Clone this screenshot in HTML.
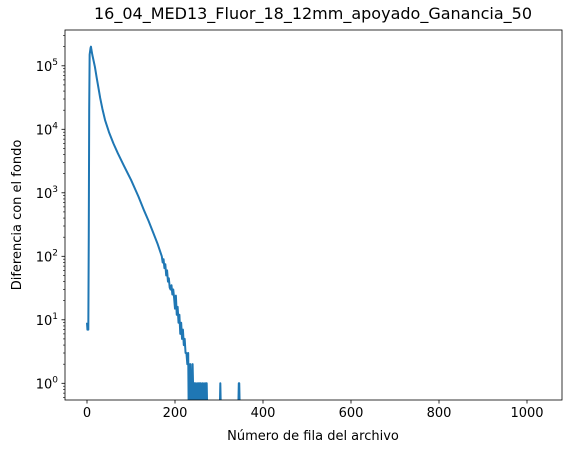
<!DOCTYPE html>
<html style="margin:0;overflow:hidden;width:570px;height:453px"><head><meta charset="utf-8"><style>
body{margin:0;background:#fff;overflow:hidden;width:570px;height:453px}
svg{display:block}
svg text{font-family:"DejaVu Sans","Liberation Sans",sans-serif;fill:#000}
</style></head><body>
<svg id="chart" width="570" height="453" viewBox="0 0 570 453" xmlns="http://www.w3.org/2000/svg">
<defs><clipPath id="clip"><rect x="65" y="30" width="497" height="370"/></clipPath></defs>
<rect x="0" y="0" width="570" height="453" fill="#fff"/>
<g id="plot" clip-path="url(#clip)"></g>
<g id="axes"></g>
<text x="313" y="19" font-size="16" text-anchor="middle">16_04_MED13_Fluor_18_12mm_apoyado_Ganancia_50</text>
<text x="313" y="440" font-size="13" text-anchor="middle">Número de fila del archivo</text>
<text transform="translate(21,215) rotate(-90)" font-size="13" text-anchor="middle">Diferencia con el fondo</text>
</svg>
<script>
const rows=[0,1,2,3,4,5,6,8,9,10,12,15,18,22,26,30,35,41,50,60,70,83,100,117,130,140,150,160,170,172,174,176,178,180,182,184,186,188,190,192,194,196,198,200,202,204,206,208,210,212,214,216,218,220,222,224,226,228,230,231,232,233,234,235,236,237,238,239,240,241,242,244,245,246,247,250,251,253,254,256,257,258,259,262,263,266,267,270,271,272,273,302,303,304,344,345,346,347,1023];
const vals=[9,7,7,7,200,20000,150000,190000,200000,180000,150000,120000,96000,65000,45000,31000,21000,14000,9000,6000,4200,2750,1600,870,520,360,240,160,100,80,90,65,75,50,60,40,45,32,30,35,25,30,22,15,24,12,16,9,12,6,9,5,7,4,5,3,3,2,3,0,2,1,0,2,1,0,1,0,2,1,0,1,0,1,0,1,0,1,0,1,0,1,0,1,0,1,0,1,0,1,0,0,1,0,0,1,1,0,0];
const xTicks=[0,200,400,600,800,1000];
const yTicks=[0,1,2,3,4,5];
const L=65,R=562,T=30,B=400;
const X=v=>87+(v)*0.44;
const Y=v=>{const lg=v>0?Math.log10(v):-0.35;return 383.3-lg*63.5;};
const NS="http://www.w3.org/2000/svg";
function mk(t,a,p){const e=document.createElementNS(NS,t);for(const k in a)e.setAttribute(k,a[k]);p.appendChild(e);return e;}
const plot=document.getElementById('plot'),axes=document.getElementById('axes');
let d=rows.map((r,i)=>(i?'L':'M')+X(r).toFixed(2)+' '+Y(vals[i]).toFixed(2)).join(' ');
const line=mk('path',{d:d,fill:'none',stroke:'#1f77b4','stroke-width':2,'stroke-linejoin':'round'},plot);


const frame=mk('rect',{x:L,y:T,width:R-L,height:B-T,fill:'none',stroke:'#000','stroke-width':0.8},axes);


xTicks.forEach(t=>{const x=X(t);
mk('line',{x1:x,x2:x,y1:B,y2:B+3.5,stroke:'#000','stroke-width':0.8},axes);
const tx=mk('text',{x:x,y:B+17,'font-size':13,'text-anchor':'middle'},axes);tx.textContent=t;

});
yTicks.forEach(e=>{const y=Y(Math.pow(10,e));
mk('line',{x1:L-3.5,x2:L,y1:y,y2:y,stroke:'#000','stroke-width':0.8},axes);
const tx=mk('text',{x:L-7,y:y+5,'font-size':13,'text-anchor':'end'},axes);


tx.appendChild(document.createTextNode('10'));
const s=document.createElementNS(NS,'tspan');s.setAttribute('dy','-6');s.setAttribute('font-size','9');s.textContent=e;tx.appendChild(s);});
for(let e=-1;e<=5;e++)for(let m=2;m<=9;m++){const y=Y(m*Math.pow(10,e));if(y<T||y>B)continue;
mk('line',{x1:L-2,x2:L,y1:y,y2:y,stroke:'#000','stroke-width':0.6},axes);}
</script>
</body></html>
